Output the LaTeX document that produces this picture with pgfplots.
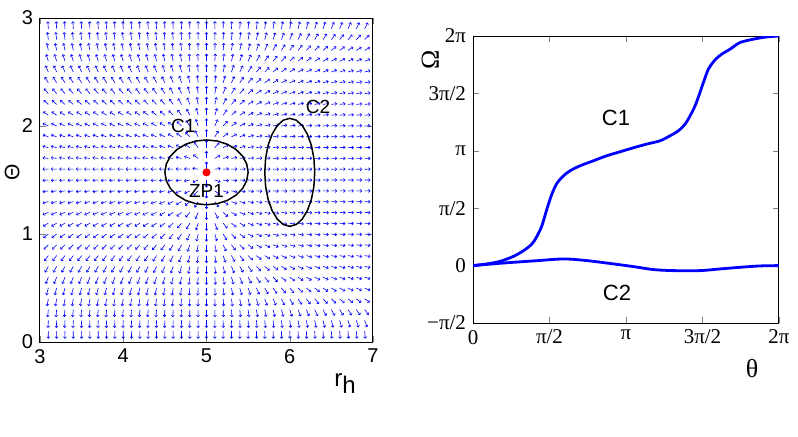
\documentclass[border=0pt]{standalone}
\usepackage{pgfplots}
\pgfplotsset{compat=1.18}
\usepackage{pgfplotstable}
\usepackage{fontspec}
\setmainfont{Liberation Sans}
\newfontfamily\tms{Liberation Serif}
\usetikzlibrary{arrows.meta}

% phi^r along r_h (one value per column of the grid)
\pgfplotstableread{
r f
3.1 -1.30
3.2 -1.31
3.3 -1.32
3.4 -1.33
3.5 -1.33
3.6 -1.33
3.7 -1.33
3.8 -1.32
3.9 -1.31
4.0 -1.30
4.1 -1.28
4.2 -1.25
4.3 -1.20
4.4 -1.12
4.5 -1.00
4.6 -0.85
4.7 -0.67
4.8 -0.46
4.9 -0.23
5.0 0.00
5.1 0.28
5.2 0.60
5.3 0.96
5.4 1.36
5.5 1.80
5.6 2.28
5.7 2.80
5.8 3.35
5.9 3.93
6.0 4.55
6.1 5.20
6.2 5.88
6.3 6.58
6.4 7.30
6.5 8.04
6.6 8.80
6.7 9.58
6.8 10.38
6.9 11.20
}\fcol

\pgfplotsset{
  qv/.style={blue, line width=0.3pt,
    quiver/every arrow/.append style={-{Straight Barb[length=0.8pt,width=1.5pt]}}},
  cv/.style={blue, line width=1.4pt, smooth},
}

\begin{document}
\begin{tikzpicture}
\path[use as bounding box] (0,0) rectangle (399pt,218pt);

% ---------------- (a) ----------------
\begin{axis}[
  at={(20pt,47pt)}, anchor=south west,
  scale only axis, width=166.5pt, height=162pt,
  xmin=3, xmax=7, ymin=0, ymax=3,
  xtick={3,4,5,6,7}, ytick={0,1,2,3},
  tick label style={font=\fontsize{10}{12}\selectfont},
  /pgf/number format/assume math mode=true,
  tick align=inside, major tick length=3pt,
  axis line style={line width=0.5pt},
  ylabel={\fontsize{10.5}{12}\selectfont Θ},
  ylabel style={at={(axis description cs:-0.084,0.525)}, anchor=center},
  xlabel={\fontsize{12}{14}\selectfont r\raisebox{-0.55ex}{h}},
  xlabel style={at={(axis description cs:0.916,-0.127)}, anchor=center},
]
% phi^Theta per row: theta / value
\foreach \t/\g in {0.1/-99.83, 0.2/-24.83, 0.3/-10.94, 0.4/-6.074, 0.5/-3.818,
  0.6/-2.589, 0.7/-1.843, 0.8/-1.354, 0.9/-1.013, 1.0/-0.763, 1.1/-0.571,
  1.2/-0.417, 1.3/-0.288, 1.4/-0.175, 1.5/-0.0711, 1.6/0.0292, 1.7/0.131,
  1.8/0.2396, 1.9/0.361, 2.0/0.5033, 2.1/0.6775, 2.2/0.9003, 2.3/1.198,
  2.4/1.616, 2.5/2.237, 2.6/3.225, 2.7/4.95, 2.8/8.396, 2.9/16.96}{
  \edef\temp{\noexpand\addplot[qv, quiver={
      u={0.07*(\noexpand\thisrow{f})/sqrt((\noexpand\thisrow{f})^2+(\g)^2)},
      v={0.07*(\g)/sqrt((\noexpand\thisrow{f})^2+(\g)^2)}}]
    table[x=r, y expr=\t] {\noexpand\fcol};}
  \temp
}

% C1
\addplot[black, line width=0.75pt] coordinates {
(5.5,1.571) (5.483,1.648) (5.433,1.721) (5.354,1.783) (5.25,1.831) (5.129,1.861)
(5,1.871) (4.871,1.861) (4.75,1.831) (4.646,1.783) (4.567,1.721) (4.517,1.648)
(4.5,1.571) (4.517,1.493) (4.567,1.421) (4.646,1.359) (4.75,1.311) (4.871,1.281)
(5,1.271) (5.129,1.281) (5.25,1.311) (5.354,1.359) (5.433,1.421) (5.483,1.493)
(5.5,1.571)};
% C2
\addplot[black, line width=0.75pt] coordinates {
(6.3,1.571) (6.29,1.7) (6.26,1.821) (6.212,1.924) (6.15,2.004) (6.078,2.054)
(6,2.071) (5.922,2.054) (5.85,2.004) (5.788,1.924) (5.74,1.821) (5.71,1.7)
(5.7,1.571) (5.71,1.441) (5.74,1.321) (5.788,1.217) (5.85,1.138) (5.922,1.088)
(6,1.071) (6.078,1.088) (6.15,1.138) (6.212,1.217) (6.26,1.321) (6.29,1.441)
(6.3,1.571)};
% ZP1
\addplot[only marks, mark=*, mark size=1.8pt, red] coordinates {(5,1.5708)};

\node[font=\fontsize{9.5}{11}\selectfont] at (axis cs:4.72,2.0) {C1};
\node[font=\fontsize{9.5}{11}\selectfont] at (axis cs:6.34,2.18) {C2};
\node[font=\fontsize{9.5}{11}\selectfont] at (axis cs:5.0,1.40) {ZP1};
\node[font=\fontsize{12}{14}\selectfont] at (axis description cs:0.517,-0.247) {(a)};
\end{axis}

% ---------------- (b) ----------------
\begin{axis}[
  at={(236.5pt,56.5pt)}, anchor=south west,
  scale only axis, width=153pt, height=143.5pt,
  xmin=0, xmax=6.2832, ymin=-1.5708, ymax=6.2832,
  xtick={0,1.5708,3.1416,4.7124,6.2832},
  xticklabels={0,π/2,π,3π/2,2π},
  ytick={-1.5708,0,1.5708,3.1416,4.7124,6.2832},
  yticklabels={−π/2,0,π/2,π,3π/2,2π},
  tick label style={font=\tms\fontsize{10.5}{12}\selectfont},
  tick align=inside, major tick length=3pt,
  axis line style={line width=0.5pt},
  ylabel={\tms\fontsize{13}{15}\selectfont Ω},
  ylabel style={at={(axis description cs:-0.14,0.916)}, anchor=center},
  xlabel={\tms\fontsize{13}{15}\selectfont θ},
  xlabel style={at={(axis description cs:0.912,-0.157)}, anchor=center},
]
\addplot[cv] coordinates {
(0,0) (0.287,0.046) (0.561,0.118) (0.834,0.255) (1.039,0.410) (1.210,0.592)
(1.313,0.802) (1.415,1.093) (1.518,1.549) (1.620,1.959) (1.723,2.251)
(1.860,2.460) (1.996,2.597) (2.201,2.733) (2.475,2.870) (2.748,3.007)
(3.022,3.116) (3.295,3.225) (3.569,3.326) (3.842,3.417) (4.047,3.553)
(4.218,3.690) (4.355,3.872) (4.458,4.100) (4.560,4.373) (4.649,4.692)
(4.731,5.011) (4.834,5.376) (4.970,5.631) (5.107,5.786) (5.278,5.922)
(5.483,6.105) (5.757,6.196) (6.030,6.258) (6.283,6.283)};
\addplot[cv] coordinates {
(0,0) (0.561,0.064) (1.244,0.128) (1.860,0.182) (2.338,0.137) (2.885,0.046)
(3.295,-0.027) (3.706,-0.109) (4.116,-0.137) (4.663,-0.137) (5.073,-0.091)
(5.483,-0.046) (5.894,-0.009) (6.283,0)};
\node[font=\fontsize{11}{13}\selectfont] at (axis cs:2.936,4.039) {C1};
\node[font=\fontsize{11}{13}\selectfont] at (axis cs:2.957,-0.750) {C2};
\node[font=\fontsize{12}{14}\selectfont] at (axis description cs:0.552,-0.31) {(b)};
\end{axis}
\end{tikzpicture}
\end{document}
